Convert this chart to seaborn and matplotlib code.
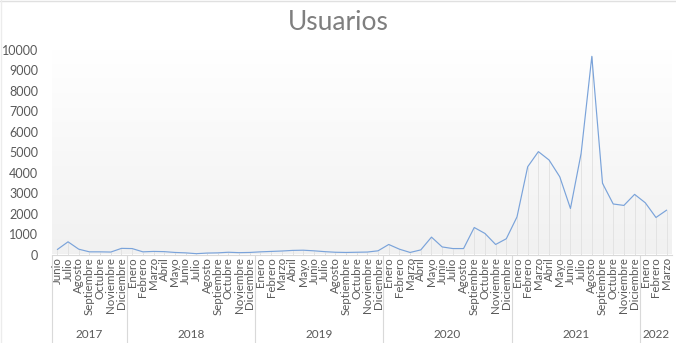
import numpy as np
import pandas as pd
import matplotlib
matplotlib.use("Agg")
import matplotlib.pyplot as plt
import matplotlib.transforms as mtransforms
from matplotlib.lines import Line2D
import seaborn as sns

# ---- data ----
years = ["2017", "2018", "2019", "2020", "2021", "2022"]
months_2017 = ["Junio", "Julio", "Agosto", "Septiembre", "Octubre", "Noviembre", "Diciembre"]
months_full = ["Enero", "Febrero", "Marzo", "Abril", "Mayo", "Junio", "Julio", "Agosto",
               "Septiembre", "Octubre", "Noviembre", "Diciembre"]
months_2022 = ["Enero", "Febrero", "Marzo"]
month_groups = [months_2017, months_full, months_full, months_full, months_full, months_2022]

usuarios = [
    # 2017
    245, 620, 260, 130, 130, 120, 300,
    # 2018
    290, 130, 150, 140, 100, 80, 40, 70, 80, 110, 90, 100,
    # 2019
    130, 150, 170, 200, 210, 180, 140, 110, 100, 110, 120, 180,
    # 2020
    490, 260, 100, 225, 850, 370, 290, 290, 1320, 1030, 490, 770,
    # 2021
    1840, 4290, 5030, 4620, 3800, 2250, 4950, 9690, 3480, 2470, 2400, 2940,
    # 2022
    2530, 1810, 2170,
]

month_labels = [m for g in month_groups for m in g]
year_of = [y for y, g in zip(years, month_groups) for _ in g]
df = pd.DataFrame({"idx": np.arange(len(usuarios)), "mes": month_labels,
                   "anio": year_of, "usuarios": usuarios})

# ---- style ----
sns.set_style("white")
plt.rcParams["font.family"] = ["Lato", "DejaVu Sans"]

fig = plt.figure(figsize=(6.76, 3.43), dpi=100)
ax = fig.add_axes([52 / 676, 1 - 254.5 / 343, (672 - 52) / 676, (254.5 - 50) / 343])

n = len(df)
ax.set_xlim(-0.5, n - 0.5)
ax.set_ylim(0, 10000)

# gradient background (white at top -> light gray at bottom)
grad = np.linspace(1.0, 0.0, 256).reshape(-1, 1)
top = np.array([1.0, 1.0, 1.0])
bot = np.array([0.945, 0.945, 0.945])
img = top * grad[..., None] + bot * (1 - grad[..., None])
ax.imshow(img, extent=(-0.5, n - 0.5, 0, 10000), aspect="auto", zorder=0,
          interpolation="bilinear")

# drop lines
ax.vlines(df["idx"], 0, df["usuarios"], colors="#e3e3e3", linewidth=0.7, zorder=1)

sns.lineplot(data=df, x="idx", y="usuarios", ax=ax, color="#7aa3da",
             linewidth=0.85, zorder=3)

for s in ["top", "right", "left"]:
    ax.spines[s].set_visible(False)
ax.spines["bottom"].set_color("#d9d9d9")
ax.spines["bottom"].set_linewidth(0.8)

ax.set_yticks(np.arange(0, 10001, 1000))
ax.set_yticklabels([str(v) for v in range(0, 10001, 1000)])
ax.tick_params(axis="y", length=0, pad=10, labelsize=9, labelcolor="#595959")

ax.set_xticks(df["idx"])
ax.set_xticklabels(df["mes"], rotation=90)
ax.tick_params(axis="x", length=0, pad=2, labelsize=8.3, labelcolor="#595959")
ax.set_xlabel("")
ax.set_ylabel("")

# year group labels and separators
trans = mtransforms.blended_transform_factory(ax.transData, ax.transAxes)
start = 0
sep_bottom = -(343 - 254.5) / (254.5 - 50)
year_y = -(334 - 254.5) / (254.5 - 50)
bounds = [-0.5]
for y, g in zip(years, month_groups):
    end = start + len(g)
    ax.text((start + end - 1) / 2, year_y, y, transform=trans, ha="center", va="center",
            fontsize=8.5, color="#595959")
    bounds.append(end - 0.5)
    start = end
for b in bounds[:-1]:
    ax.add_line(Line2D([b, b], [0, sep_bottom], transform=trans, color="#d9d9d9",
                       linewidth=0.8, clip_on=False))

fig.text(0.5, 1 - 22 / 343, "Usuarios", ha="center", va="center", fontsize=19,
         color="#7f7f7f")

# faint chart border (top & left)
fig.add_artist(Line2D([0, 1], [0.998, 0.998], transform=fig.transFigure, color="#e0e0e0", linewidth=1))
fig.add_artist(Line2D([0.001, 0.001], [0, 1], transform=fig.transFigure, color="#ececec", linewidth=1))

fig.savefig("out.png", dpi=100)
